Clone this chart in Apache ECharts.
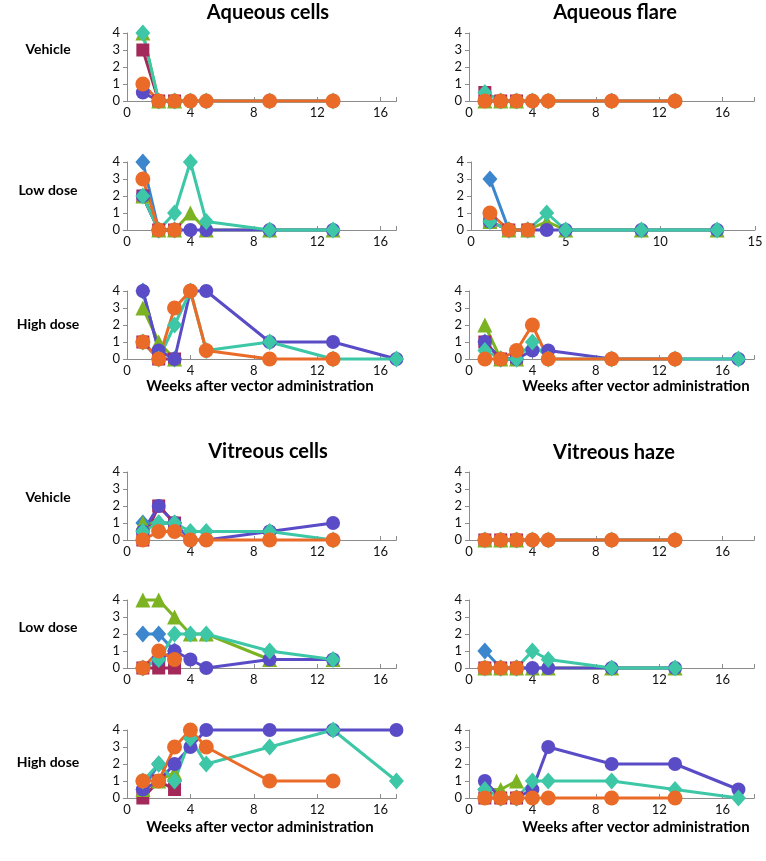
<!DOCTYPE html>
<html lang="en">
<head>
<meta charset="utf-8">
<title>Ocular inflammation scores</title>
<style>
  html, body { margin: 0; padding: 0; background: #fff; }
  #main { width: 766px; height: 861px; }
</style>
</head>
<body>
<div id="main"></div>
<script src="https://cdn.jsdelivr.net/npm/echarts@6/dist/echarts.min.js"></script>
<script>
// time points (weeks after vector administration)
var weeks = [1, 2, 3, 4, 5, 9, 13, 17];
var _ = null;

// rows in every panel: blue, maroon, green, purple, teal, orange animal
var aqCellsVehicle = [
  [_, _, _, _, _, _, _, _],
  [3, 0, 0, _, _, _, _, _],
  [4, 0, 0, _, _, _, _, _],
  [0.5, 0, 0, 0, 0, 0, 0, _],
  [4, 0, 0, 0, 0, 0, 0, _],
  [1, 0, 0, 0, 0, 0, 0, _]
];
var aqFlareVehicle = [
  [_, _, _, _, _, _, _, _],
  [0.5, 0, 0, _, _, _, _, _],
  [0, 0, 0, _, _, _, _, _],
  [0, 0, 0, 0, 0, 0, 0, _],
  [0.5, 0, 0, 0, 0, 0, 0, _],
  [0, 0, 0, 0, 0, 0, 0, _]
];
var aqCellsLow = [
  [4, 0, 0, _, _, _, _, _],
  [2, 0, 0, _, _, _, _, _],
  [2, 0, 0, 1, 0, 0, 0, _],
  [2, 0, 0, 0, 0, 0, 0, _],
  [2, 0, 1, 4, 0.5, 0, 0, _],
  [3, 0, 0, _, _, _, _, _]
];
var aqFlareLow = [
  [3, 0, 0, _, _, _, _, _],
  [0.5, 0, 0, _, _, _, _, _],
  [0.5, 0, 0, 0.5, 0, 0, 0, _],
  [0.5, 0, 0, 0, 0, 0, 0, _],
  [0.5, 0, 0, 1, 0, 0, 0, _],
  [1, 0, 0, _, _, _, _, _]
];
var aqCellsHigh = [
  [4, 0.5, 0, _, _, _, _, _],
  [1, 0, 0, _, _, _, _, _],
  [3, 1, 0, _, _, _, _, _],
  [4, 0.5, 0, 4, 4, 1, 1, 0],
  [1, 0, 2, 4, 0.5, 1, 0, 0],
  [1, 0, 3, 4, 0.5, 0, 0, _]
];
var aqFlareHigh = [
  [1, 0, 0, _, _, _, _, _],
  [1, 0, 0, _, _, _, _, _],
  [2, 0, 0, _, _, _, _, _],
  [1, 0, 0, 0.5, 0.5, 0, 0, 0],
  [0.5, 0, 0, 1, 0, 0, 0, 0],
  [0, 0, 0.5, 2, 0, 0, 0, _]
];
var vitCellsVehicle = [
  [1, 1, 1, _, _, _, _, _],
  [0, 2, 1, _, _, _, _, _],
  [1, 1, 1, _, _, _, _, _],
  [0.5, 2, 1, 0, 0, 0.5, 1, _],
  [0.5, 1, 1, 0.5, 0.5, 0.5, 0, _],
  [0, 0.5, 0.5, 0, 0, 0, 0, _]
];
var vitHazeVehicle = [
  [_, _, _, _, _, _, _, _],
  [0, 0, 0, _, _, _, _, _],
  [0, 0, 0, _, _, _, _, _],
  [0, 0, 0, 0, 0, 0, 0, _],
  [0, 0, 0, 0, 0, 0, 0, _],
  [0, 0, 0, 0, 0, 0, 0, _]
];
var vitCellsLow = [
  [2, 2, 1, _, _, _, _, _],
  [0, 0, 0, _, _, _, _, _],
  [4, 4, 3, 2, 2, 0.5, 0.5, _],
  [0, 0.5, 1, 0.5, 0, 0.5, 0.5, _],
  [0, 0.5, 2, 2, 2, 1, 0.5, _],
  [0, 1, 0.5, _, _, _, _, _]
];
var vitHazeLow = [
  [1, 0, 0, _, _, _, _, _],
  [0, 0, 0, _, _, _, _, _],
  [0, 0, 0, 0, 0, 0, 0, _],
  [0, 0, 0, 0, 0, 0, 0, _],
  [0, 0, 0, 1, 0.5, 0, 0, _],
  [0, 0, 0, _, _, _, _, _]
];
var vitCellsHigh = [
  [0.5, 2, 1, _, _, _, _, _],
  [0, 1, 0.5, _, _, _, _, _],
  [0.5, 1, 1.5, _, _, _, _, _],
  [0.5, 1, 2, 3, 4, 4, 4, 4],
  [1, 2, 1, 3.5, 2, 3, 4, 1],
  [1, 1, 3, 4, 3, 1, 1, _]
];
var vitHazeHigh = [
  [0.5, 0, 0, _, _, _, _, _],
  [0, 0, 0, _, _, _, _, _],
  [0.5, 0.5, 1, _, _, _, _, _],
  [1, 0, 0, 0.5, 3, 2, 2, 0.5],
  [0.5, 0, 0, 1, 1, 1, 0.5, 0],
  [0, 0, 0, 0, 0, 0, 0, _]
];

var panelTitles = ['Aqueous cells', 'Aqueous flare', 'Vitreous cells', 'Vitreous haze'];
var doseLabels = ['Vehicle', 'Low dose', 'High dose'];
var xAxisTitle = 'Weeks after vector administration';
var yTicks = [0, 1, 2, 3, 4];

// marker look for each animal
var animalStyles = [
  { color: '#3B86CC', symbol: 'diamond', size: [15, 17] },
  { color: '#A3295A', symbol: 'rect', size: 13 },
  { color: '#7CB322', symbol: 'triangle', size: 15 },
  { color: '#5A4CC6', symbol: 'circle', size: 14 },
  { color: '#3DC7A6', symbol: 'diamond', size: [15, 17] },
  { color: '#EA6B28', symbol: 'circle', size: 15 }
];

// layout: [data, column, row, xMax, xStep]
var panels = [
  [aqCellsVehicle, 0, 0, 17, 4], [aqFlareVehicle, 1, 0, 18, 4],
  [aqCellsLow, 0, 1, 17, 4], [aqFlareLow, 1, 1, 15, 5],
  [aqCellsHigh, 0, 2, 17, 4], [aqFlareHigh, 1, 2, 18, 4],
  [vitCellsVehicle, 0, 3, 17, 4], [vitHazeVehicle, 1, 3, 18, 4],
  [vitCellsLow, 0, 4, 17, 4], [vitHazeLow, 1, 4, 18, 4],
  [vitCellsHigh, 0, 5, 17, 4], [vitHazeHigh, 1, 5, 18, 4]
];
var colLeft = [127, 469];
var pxPerWeek = 15.85;
var rowTop = [33, 162, 291, 472, 600, 730];
var gridH = 68;
var FONT = 'Lato, "Open Sans", sans-serif';

function toPairs(vals) {
  var out = [];
  vals.forEach(function (v, i) {
    if (v !== null) out.push([weeks[i], v]);
  });
  return out;
}

var grids = [], xAxes = [], yAxes = [], series = [];
panels.forEach(function (p, k) {
  var width = p[4] === 5 ? 284 : p[3] * pxPerWeek;
  var left = p[4] === 5 ? 471 : colLeft[p[1]];
  grids.push({ left: left, top: rowTop[p[2]], width: width, height: gridH });
  xAxes.push({
    type: 'value', gridIndex: k, min: 0, max: p[3], interval: p[4],
    axisLine: { lineStyle: { color: '#8c8c8c', width: 1 } },
    axisTick: { inside: true, length: 4, lineStyle: { color: '#8c8c8c' } },
    splitLine: { show: false },
    axisLabel: {
      color: '#111', fontSize: 13, fontFamily: FONT, margin: 5,
      formatter: (function (step) {
        return function (v) { return v % step === 0 ? v : ''; };
      })(p[4])
    }
  });
  yAxes.push({
    type: 'value', gridIndex: k, min: yTicks[0], max: yTicks[yTicks.length - 1], interval: 1,
    axisLine: { show: true, lineStyle: { color: '#8c8c8c', width: 1 } },
    axisTick: { show: true, length: 4, lineStyle: { color: '#8c8c8c' } },
    splitLine: { show: false },
    axisLabel: { color: '#111', fontSize: 13, fontFamily: FONT, margin: 7 }
  });
  p[0].forEach(function (vals, a) {
    var st = animalStyles[a];
    series.push({
      type: 'line', xAxisIndex: k, yAxisIndex: k,
      data: toPairs(vals),
      symbol: st.symbol, symbolSize: st.size,
      showAllSymbol: true, clip: false, animation: false,
      lineStyle: { color: st.color, width: 3 },
      itemStyle: { color: st.color }
    });
  });
});

function label(text, x, y, size) {
  return {
    type: 'text', x: x, y: y,
    style: {
      text: text, textAlign: 'center', textVerticalAlign: 'middle',
      font: 'bold ' + size + 'px ' + FONT, fill: '#000'
    }
  };
}

var graphics = [
  label(panelTitles[0], 268, 13, 20), label(panelTitles[1], 615, 13, 20),
  label(panelTitles[2], 268, 452, 20), label(panelTitles[3], 614, 453, 20),
  label(xAxisTitle, 260, 386, 15), label(xAxisTitle, 636, 386, 15),
  label(xAxisTitle, 260, 827, 15), label(xAxisTitle, 636, 827, 15)
];
var doseY = [49, 190, 324, 497, 627, 762];
doseY.forEach(function (y, i) {
  graphics.push(label(doseLabels[i % 3], 48, y, 14));
});

var chart = echarts.init(document.getElementById('main'));
chart.setOption({
  backgroundColor: '#fff',
  animation: false,
  grid: grids,
  xAxis: xAxes,
  yAxis: yAxes,
  series: series,
  graphic: graphics
});
</script>
</body>
</html>
